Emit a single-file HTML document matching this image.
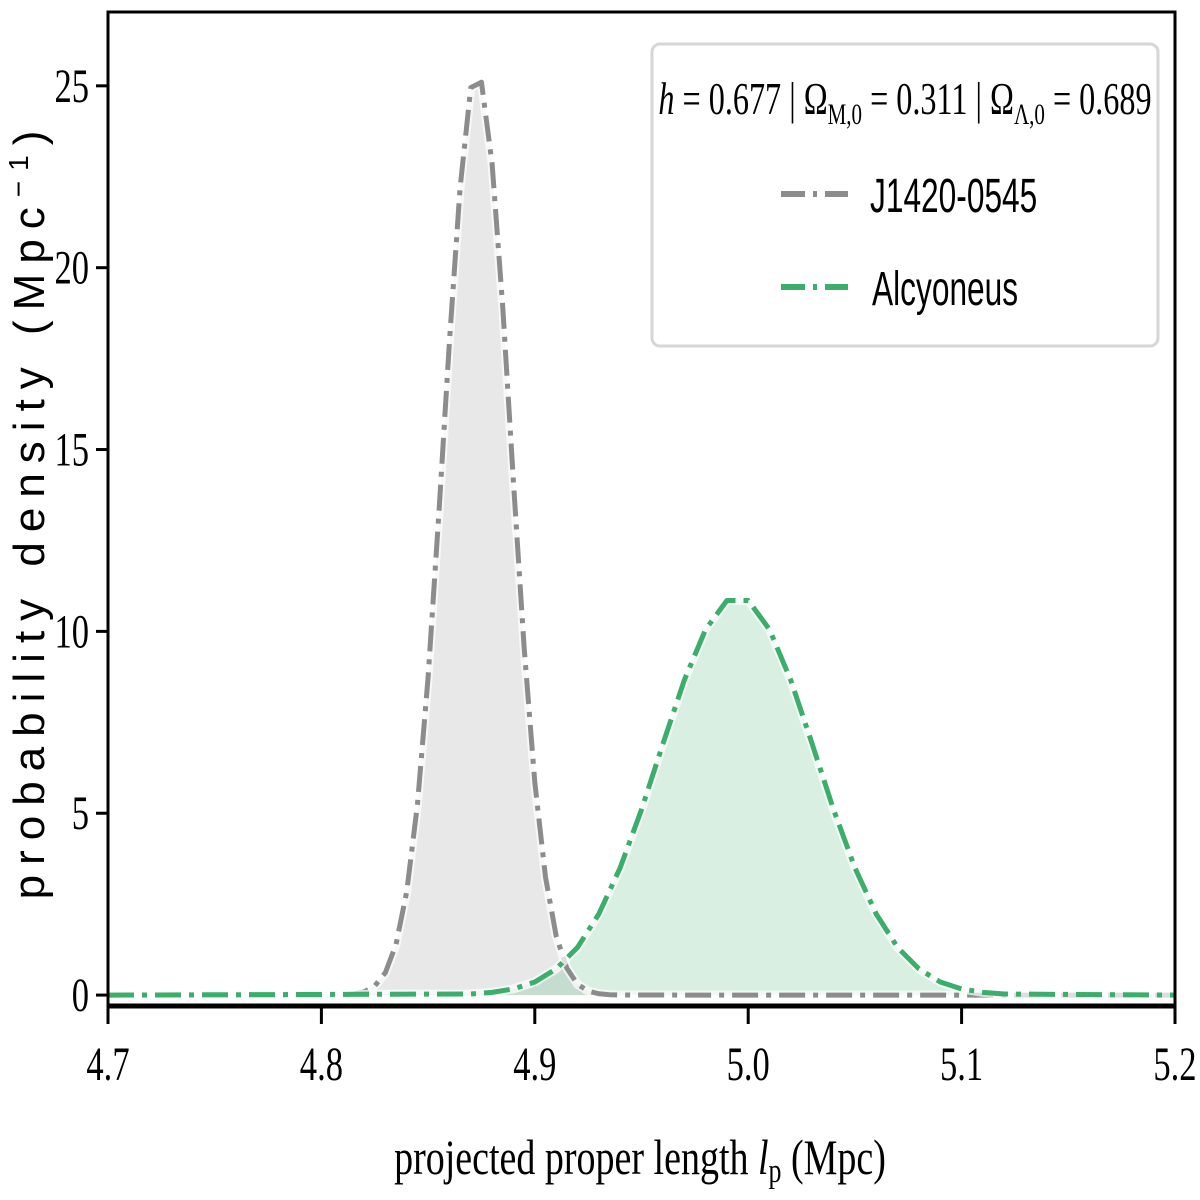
<!DOCTYPE html>
<html><head><meta charset="utf-8"><style>
html,body{margin:0;padding:0;background:#fff;}
svg{display:block;}
.serif{font-family:"Liberation Serif",serif;}
.sans{font-family:"Liberation Sans",sans-serif;}
</style></head><body>
<svg id="chart" width="1200" height="1200" viewBox="0 0 1200 1200" xmlns="http://www.w3.org/2000/svg">
<rect width="1200" height="1200" fill="#fff"/>
<g id="fills"></g>
<g id="lines"></g>
<g id="axes"></g>
<g id="legend">
  <rect x="652" y="44" width="506" height="302" rx="8" fill="#fff" fill-opacity="0.9" stroke="#d6d6d6" stroke-width="3"/>
  <text class="serif" x="905" y="114" font-size="46" text-anchor="middle" transform="translate(905,0) scale(0.7,1) translate(-905,0)"><tspan font-style="italic">h</tspan> = 0.677 | Ω<tspan font-size="30" dy="10">M,0</tspan><tspan dy="-10"> = 0.311 | Ω</tspan><tspan font-size="30" dy="10">Λ,0</tspan><tspan dy="-10"> = 0.689</tspan></text>
  <line x1="781" y1="194" x2="848" y2="194" stroke="#8c8c8c" stroke-width="6" stroke-dasharray="24,8,4,8"/>
  <text class="sans" x="870" y="212" font-size="48" transform="translate(870,0) scale(0.66,1) translate(-870,0)">J1420-0545</text>
  <line x1="781" y1="287" x2="848" y2="287" stroke="#3aae6a" stroke-width="6" stroke-dasharray="24,8,4,8"/>
  <text class="sans" x="872" y="305" font-size="48" transform="translate(872,0) scale(0.66,1) translate(-872,0)">Alcyoneus</text>
</g>
<text class="serif" x="640" y="1174" font-size="50" text-anchor="middle" transform="translate(640,0) scale(0.76,1) translate(-640,0)">projected proper length <tspan font-style="italic">l</tspan><tspan font-size="34" dy="8">p</tspan><tspan dy="-8"> (Mpc)</tspan></text>
<text class="sans" x="0" y="0" font-size="44" text-anchor="middle" letter-spacing="10" transform="translate(44,510) rotate(-90)">probability density (Mpc<tspan font-size="28" dy="-16">−1</tspan><tspan dy="16">)</tspan></text>
</svg>
<script>
const xTicks = [4.7, 4.8, 4.9, 5.0, 5.1, 5.2];
const xTickLabels = ["4.7", "4.8", "4.9", "5.0", "5.1", "5.2"];
const yTicks = [0, 5, 10, 15, 20, 25];
const yTickLabels = ["0", "5", "10", "15", "20", "25"];
const grayX = [4.70, 4.800, 4.805, 4.810, 4.815, 4.820, 4.825, 4.830, 4.835, 4.840, 4.845, 4.850, 4.855, 4.860, 4.865, 4.870, 4.875, 4.880, 4.885, 4.890, 4.895, 4.900, 4.905, 4.910, 4.915, 4.920, 4.925, 4.930, 4.935, 4.940, 4.945, 5.20];
const grayY = [0, 0.0006, 0.0024, 0.009, 0.030, 0.090, 0.25, 0.62, 1.40, 2.85, 5.24, 8.74, 13.2, 17.97, 22.2, 24.95, 25.1, 22.85, 18.9, 14.1, 9.56, 5.85, 3.25, 1.63, 0.74, 0.30, 0.11, 0.037, 0.011, 0.003, 0.0007, 0];
const greenX = [4.70, 4.87, 4.88, 4.89, 4.90, 4.91, 4.92, 4.93, 4.94, 4.95, 4.96, 4.97, 4.98, 4.99, 5.00, 5.01, 5.02, 5.03, 5.04, 5.05, 5.06, 5.07, 5.08, 5.09, 5.10, 5.11, 5.12, 5.20];
const greenY = [0, 0.030, 0.074, 0.17, 0.36, 0.72, 1.31, 2.23, 3.50, 5.10, 6.90, 8.65, 10.05, 10.85, 10.85, 10.05, 8.65, 6.90, 5.10, 3.50, 2.23, 1.31, 0.72, 0.36, 0.17, 0.074, 0.030, 0];

const L = 108, R = 1175, T = 12, B = 1006;
const xMin = 4.7, xMax = 5.2, yMin = -0.3, yMax = 27.03;
const sx = v => L + (v - xMin) / (xMax - xMin) * (R - L);
const sy = v => B - (v - yMin) / (yMax - yMin) * (B - T);
const NS = "http://www.w3.org/2000/svg";
function mk(tag, attrs, parent) {
  const e = document.createElementNS(NS, tag);
  for (const k in attrs) e.setAttribute(k, attrs[k]);
  parent.appendChild(e);
  return e;
}
function pathD(xs, ys) {
  return xs.map((x, i) => (i ? "L" : "M") + sx(x).toFixed(2) + "," + sy(ys[i]).toFixed(2)).join(" ");
}
const fills = document.getElementById("fills");
const lines = document.getElementById("lines");
const axes = document.getElementById("axes");

const series = [
  {xs: grayX, ys: grayY, fill: "#e8e8e8", fo: 1, stroke: "#8c8c8c", name: "j1420"},
  {xs: greenX, ys: greenY, fill: "#3aae6a", fo: 0.2, stroke: "#3aae6a", name: "alcyoneus"}
];
series.forEach(s => {
  const d = pathD(s.xs, s.ys);
  const f = mk("path", {d: d + " L" + sx(s.xs[s.xs.length-1]) + "," + sy(0) + " L" + sx(s.xs[0]) + "," + sy(0) + " Z", fill: s.fill, "fill-opacity": s.fo}, fills);
  
  
});
series.forEach(s => {
  const d = pathD(s.xs, s.ys);
  const h = mk("path", {d: d, fill: "none", stroke: "#fff", "stroke-width": 9, "stroke-opacity": 0.7, "stroke-linejoin": "round"}, lines);
  
  
  const l = mk("path", {d: d, fill: "none", stroke: s.stroke, "stroke-width": 5, "stroke-dasharray": "26,8,5,8", "stroke-linejoin": "round"}, lines);
  
  
});

const box = mk("rect", {x: L, y: T, width: R - L, height: B - T, fill: "none", stroke: "#000", "stroke-width": 3}, axes);


const bsp = mk("line", {x1: L - 1, y1: B, x2: R + 1, y2: B, stroke: "#000", "stroke-width": 5}, axes);



xTicks.forEach((v, i) => {
  const t = mk("line", {x1: sx(v), y1: B, x2: sx(v), y2: B + 18, stroke: "#000", "stroke-width": 3}, axes);
  
  
  const tx = mk("text", {x: sx(v), y: 1080, "font-size": 48, "text-anchor": "middle", class: "serif", transform: `translate(${sx(v)},0) scale(0.72,1) translate(${-sx(v)},0)`}, axes);
  tx.textContent = xTickLabels[i];
  
  
});
yTicks.forEach((v, i) => {
  const t = mk("line", {x1: L - 12, y1: sy(v), x2: L, y2: sy(v), stroke: "#000", "stroke-width": 3}, axes);
  
  
  const tx = mk("text", {x: 89, y: sy(v) + 16, "font-size": 48, "text-anchor": "end", class: "serif", transform: `translate(89,0) scale(0.72,1) translate(-89,0)`}, axes);
  tx.textContent = yTickLabels[i];
  
  
});
</script>
</body></html>
